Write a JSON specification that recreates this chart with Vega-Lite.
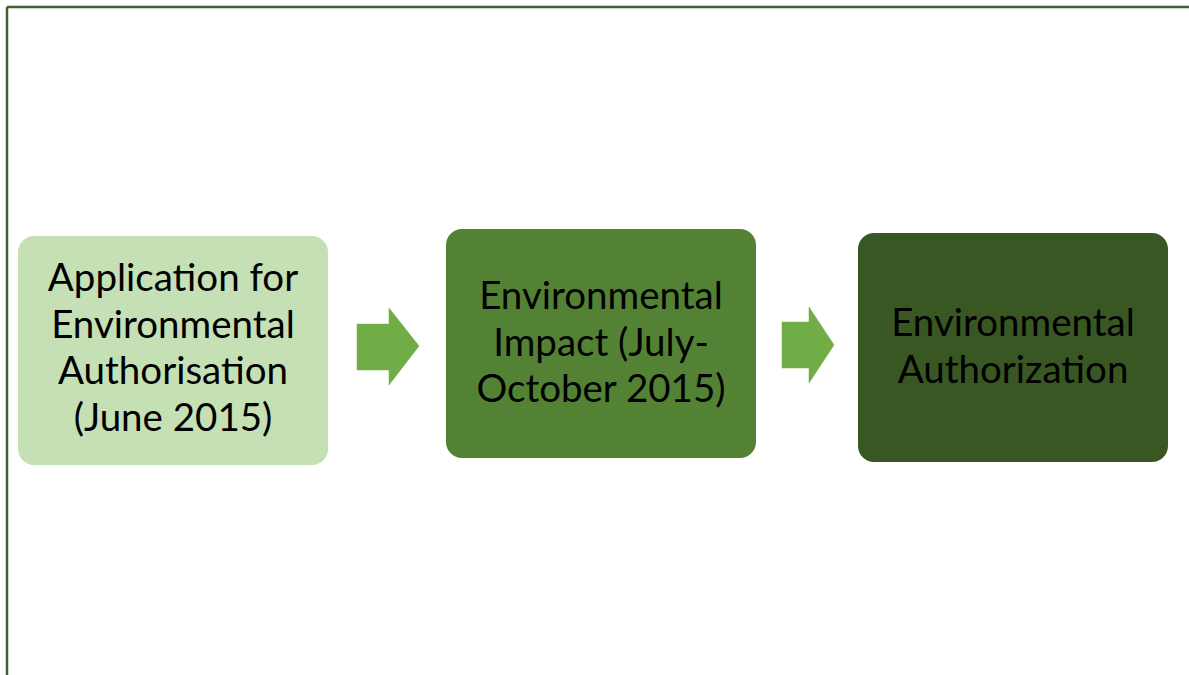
{
  "$schema": "https://vega.github.io/schema/vega-lite/v6.json",
  "width": 1189,
  "height": 675,
  "autosize": "none",
  "padding": 0,
  "background": "white",
  "config": {"view": {"stroke": null}},
  "datasets": {
    "boxes": [
      {"step": 1, "x": 18, "x2": 328, "y": 236, "y2": 465, "fill": "#c5e0b4", "cx": 173, "cy": 279, "label": ["Application for", "Environmental", "Authorisation", "(June 2015)"]},
      {"step": 2, "x": 446, "x2": 756, "y": 229, "y2": 458, "fill": "#548235", "cx": 601, "cy": 297, "label": ["Environmental", "Impact (July-", "October 2015)"]},
      {"step": 3, "x": 858, "x2": 1168, "y": 233, "y2": 462, "fill": "#385723", "cx": 1013, "cy": 324, "label": ["Environmental", "Authorization"]}
    ],
    "arrows": [
      {"arrow": "a1", "o": 1, "x": 357, "y": 324},
      {"arrow": "a1", "o": 2, "x": 389, "y": 324},
      {"arrow": "a1", "o": 3, "x": 389, "y": 308},
      {"arrow": "a1", "o": 4, "x": 419, "y": 346},
      {"arrow": "a1", "o": 5, "x": 389, "y": 385},
      {"arrow": "a1", "o": 6, "x": 389, "y": 370},
      {"arrow": "a1", "o": 7, "x": 357, "y": 370},
      {"arrow": "a1", "o": 8, "x": 357, "y": 324},
      {"arrow": "a2", "o": 1, "x": 782, "y": 322},
      {"arrow": "a2", "o": 2, "x": 809, "y": 322},
      {"arrow": "a2", "o": 3, "x": 809, "y": 307},
      {"arrow": "a2", "o": 4, "x": 834, "y": 345},
      {"arrow": "a2", "o": 5, "x": 809, "y": 383},
      {"arrow": "a2", "o": 6, "x": 809, "y": 368},
      {"arrow": "a2", "o": 7, "x": 782, "y": 368},
      {"arrow": "a2", "o": 8, "x": 782, "y": 322}
    ],
    "border": [
      {"x": 7, "y": 7, "x2": 1189, "y2": 7},
      {"x": 7, "y": 7, "x2": 7, "y2": 675}
    ]
  },
  "layer": [
    {
      "data": {"name": "border"},
      "mark": {"type": "rule", "stroke": "#43622f", "strokeWidth": 2.5},
      "encoding": {
        "x": {"field": "x", "type": "quantitative", "scale": {"domain": [0, 1189], "nice": false, "zero": false}, "axis": null},
        "x2": {"field": "x2"},
        "y": {"field": "y", "type": "quantitative", "scale": {"domain": [0, 675], "nice": false, "zero": false, "reverse": true}, "axis": null},
        "y2": {"field": "y2"}
      }
    },
    {
      "data": {"name": "boxes"},
      "mark": {"type": "rect", "cornerRadius": 16},
      "encoding": {
        "x": {"field": "x", "type": "quantitative"},
        "x2": {"field": "x2"},
        "y": {"field": "y", "type": "quantitative"},
        "y2": {"field": "y2"},
        "fill": {"field": "fill", "type": "nominal", "scale": null}
      }
    },
    {
      "data": {"name": "arrows"},
      "mark": {"type": "line", "fill": "#70ad47", "stroke": "#70ad47", "strokeWidth": 0.5, "interpolate": "linear"},
      "encoding": {
        "x": {"field": "x", "type": "quantitative"},
        "y": {"field": "y", "type": "quantitative"},
        "detail": {"field": "arrow", "type": "nominal"},
        "order": {"field": "o", "type": "quantitative"}
      }
    },
    {
      "data": {"name": "boxes"},
      "mark": {"type": "text", "font": "Lato", "fontSize": 38.5, "lineHeight": 46.5, "align": "center", "baseline": "middle", "color": "#000000"},
      "encoding": {
        "x": {"field": "cx", "type": "quantitative"},
        "y": {"field": "cy", "type": "quantitative"},
        "text": {"field": "label"}
      }
    }
  ]
}
